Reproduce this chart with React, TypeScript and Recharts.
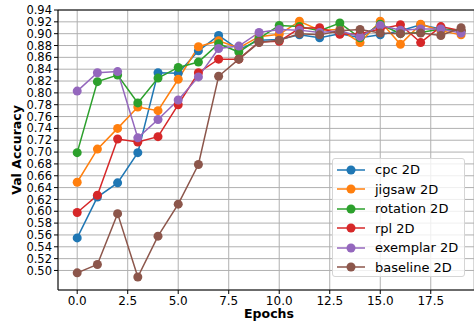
import React from 'react';
import { LineChart, Line, XAxis, YAxis, CartesianGrid, ReferenceLine, Label } from 'recharts';

const epochs = [0, 1, 2, 3, 4, 5, 6, 7, 8, 9, 10, 11, 12, 13, 14, 15, 16, 17, 18, 19];
const cpc = [0.555, 0.624, 0.648, 0.699, 0.834, 0.833, 0.871, 0.897, 0.873, 0.889, 0.890, 0.898, 0.893, 0.900, 0.893, 0.898, 0.905, 0.915, 0.908, 0.905];
const jigsaw = [0.649, 0.705, 0.740, 0.776, 0.770, 0.823, 0.878, 0.888, 0.876, 0.895, 0.899, 0.921, 0.906, 0.907, 0.885, 0.921, 0.882, 0.916, 0.905, 0.898];
const rotation = [0.699, 0.819, 0.830, 0.783, 0.825, 0.843, 0.852, 0.883, 0.869, 0.892, 0.914, 0.912, 0.905, 0.918, 0.893, 0.916, 0.900, 0.902, 0.908, 0.905];
const rpl = [0.598, 0.627, 0.722, 0.717, 0.726, 0.780, 0.834, 0.857, 0.857, 0.886, 0.887, 0.909, 0.910, 0.899, 0.900, 0.908, 0.915, 0.885, 0.912, 0.905];
const exemplar = [0.803, 0.834, 0.836, 0.724, 0.755, 0.788, 0.827, 0.875, 0.879, 0.902, 0.907, 0.906, 0.902, 0.905, 0.895, 0.914, 0.906, 0.908, 0.908, 0.901];
const baseline = [0.496, 0.510, 0.596, 0.489, 0.558, 0.612, 0.679, 0.828, 0.857, 0.885, 0.889, 0.900, 0.898, 0.905, 0.907, 0.901, 0.900, 0.901, 0.897, 0.910];

const seriesNames = ['cpc 2D', 'jigsaw 2D', 'rotation 2D', 'rpl 2D', 'exemplar 2D', 'baseline 2D'];
const seriesValues = [cpc, jigsaw, rotation, rpl, exemplar, baseline];
const colors = ['#1f77b4', '#ff7f0e', '#2ca02c', '#d62728', '#9467bd', '#8c564b'];

const xTicks = [0, 2.5, 5, 7.5, 10, 12.5, 15, 17.5];
const yTicks = [0.5, 0.52, 0.54, 0.56, 0.58, 0.6, 0.62, 0.64, 0.66, 0.68, 0.7, 0.72, 0.74, 0.76, 0.78, 0.8, 0.82, 0.84, 0.86, 0.88, 0.9, 0.92, 0.94];
const xDomain = [-0.95, 19.64];
const yDomain = [0.467, 0.94];

const data = epochs.map((e, i) => {
  const row: any = { epoch: e };
  seriesNames.forEach((n, k) => { row[n] = seriesValues[k][i]; });
  return row;
});

const FONT = 'DejaVu Sans';

function ChartLegend() {
  return (
    <div style={{ position: 'absolute', left: 332, top: 158, width: 133, height: 119, boxSizing: 'border-box', border: '1px solid #d5d5d5', borderRadius: 3, background: 'rgba(255,255,255,0.8)', paddingTop: 1 }}>
      {seriesNames.map((n, k) => (
        <div key={n} style={{ height: 19.5, display: 'flex', alignItems: 'center' }}>
          <svg width={42} height={12} style={{ flex: 'none' }}>
            <line x1={4} x2={32} y1={6} y2={6} stroke={colors[k]} strokeWidth={1.5} />
            <circle cx={18} cy={6} r={4.5} fill={colors[k]} />
          </svg>
          <span style={{ fontFamily: FONT, fontSize: 13, color: '#000', whiteSpace: 'nowrap', lineHeight: '13px' }}>{n}</span>
        </div>
      ))}
    </div>
  );
}

export default function App() {
  return (
    <div style={{ position: 'absolute', left: 0, top: 0, width: 474, height: 323, overflow: 'hidden', background: '#fff' }}>
      <LineChart width={474} height={323} data={data} margin={{ top: 10, right: 0, bottom: 0, left: 0 }} style={{ fontFamily: FONT }}>
        <CartesianGrid stroke="#b0b0b0" strokeWidth={1} />
        <XAxis
          dataKey="epoch"
          type="number"
          domain={xDomain}
          ticks={xTicks}
          allowDataOverflow
          height={33}
          tickSize={4}
          tickMargin={2}
          stroke="#000"
          tick={{ fill: '#000', fontSize: 12, fontFamily: FONT }}
          tickFormatter={(v: number) => v.toFixed(1)}
        >
          <Label content={() => (
            <text x={269} y={318} textAnchor="middle" fontFamily={FONT} fontSize={12.5} fontWeight="bold" fill="#000">Epochs</text>
          )} />
        </XAxis>
        <YAxis
          type="number"
          domain={yDomain}
          ticks={yTicks}
          allowDataOverflow
          width={58}
          tickSize={4}
          tickMargin={2}
          stroke="#000"
          interval={0}
          tick={{ fill: '#000', fontSize: 11.5, fontFamily: FONT }}
          tickFormatter={(v: number) => v.toFixed(2)}
        >
          <Label content={() => (
            <text x={21} y={150} textAnchor="middle" transform="rotate(-90 21 150)" fontFamily={FONT} fontSize={12.5} fontWeight="bold" fill="#000">Val Accuracy</text>
          )} />
        </YAxis>
        <ReferenceLine y={0.94} stroke="#000" strokeWidth={1} ifOverflow="visible" />
        {seriesNames.map((n, k) => (
          <Line
            key={n}
            dataKey={n}
            name={n}
            stroke={colors[k]}
            strokeWidth={1.5}
            type="linear"
            dot={{ r: 4.5, fill: colors[k], stroke: colors[k], strokeWidth: 0 }}
            activeDot={false}
            isAnimationActive={false}
          />
        ))}
      </LineChart>
      <ChartLegend />
    </div>
  );
}
